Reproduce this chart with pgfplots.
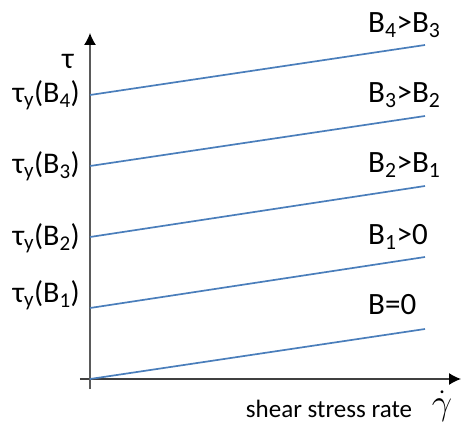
\documentclass[border=0pt]{standalone}
\usepackage{graphicx}
\usepackage{pgfplots}
\pgfplotsset{compat=1.18}
\usepackage{fontspec}
\setmainfont{Carlito}
\usetikzlibrary{arrows.meta}
\definecolor{lineblue}{HTML}{4A7EBB}
\definecolor{axgray}{HTML}{5A5A5A}
\newcommand{\bigf}{\fontsize{31}{33}\selectfont}
\newcommand{\midf}{\fontsize{30}{32}\selectfont}
\newcommand{\smf}{\fontsize{25}{27}\selectfont}
\begin{document}
\begin{tikzpicture}
\begin{axis}[
  x=1pt, y=1pt,
  xmin=-10, xmax=371, ymin=-10, ymax=346,
  axis lines=middle,
  xtick=\empty, ytick=\empty,
  clip=false,
  every inner x axis line/.append style={-{Latex[length=12pt,width=12pt,color=black]}, line width=1.3pt, color=black!75},
  every inner y axis line/.append style={-{Latex[length=12pt,width=12pt,color=black]}, line width=1.3pt, color=axgray},
]
\path (axis cs:-90,-44) rectangle (axis cs:372,379);
\addplot[lineblue, line width=1.7pt] coordinates {(0,0) (335,50)};
\addplot[lineblue, line width=1.7pt] coordinates {(0,71) (335,122)};
\addplot[lineblue, line width=1.7pt] coordinates {(0,142) (335,193)};
\addplot[lineblue, line width=1.7pt] coordinates {(0,213) (335,263)};
\addplot[lineblue, line width=1.7pt] coordinates {(0,284) (335,334)};
\node[anchor=west, inner sep=0pt] at (axis cs:278,74) {\bigf B=0};
\node[anchor=west, inner sep=0pt] at (axis cs:278,142) {\bigf B\textsubscript{1}>0};
\node[anchor=west, inner sep=0pt] at (axis cs:278,214) {\bigf B\textsubscript{2}>B\textsubscript{1}};
\node[anchor=west, inner sep=0pt] at (axis cs:278,284) {\bigf B\textsubscript{3}>B\textsubscript{2}};
\node[anchor=west, inner sep=0pt] at (axis cs:278,354) {\bigf B\textsubscript{4}>B\textsubscript{3}};
\node[anchor=east, inner sep=0pt] at (axis cs:-10,284) {\midf τ\textsubscript{y}(B\textsubscript{4})};
\node[anchor=east, inner sep=0pt] at (axis cs:-10,213) {\midf τ\textsubscript{y}(B\textsubscript{3})};
\node[anchor=east, inner sep=0pt] at (axis cs:-10,141) {\midf τ\textsubscript{y}(B\textsubscript{2})};
\node[anchor=east, inner sep=0pt] at (axis cs:-10,84) {\midf τ\textsubscript{y}(B\textsubscript{1})};
\node[inner sep=0pt] at (axis cs:-22,318) {\midf τ};
\node[inner sep=0pt] at (axis cs:239,-30) {\smf shear stress rate};
\node[inner sep=0pt] at (axis cs:352,-27) {\scalebox{1.45}{\fontsize{24.88}{26}\selectfont $\dot{\gamma}$}};
\end{axis}
\end{tikzpicture}
\end{document}
